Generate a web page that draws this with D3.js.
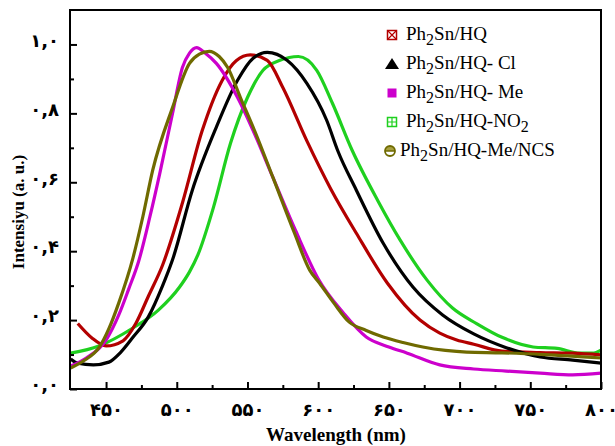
<!DOCTYPE html>
<html>
<head>
<meta charset="utf-8">
<script src="https://cdn.jsdelivr.net/npm/d3@7/dist/d3.min.js"></script>
<style>
body { margin: 0; background: #fff; }
text { font-family: "Liberation Serif", "DejaVu Serif", serif; }
.tick text { font-family: "DejaVu Sans", sans-serif; font-weight: bold; letter-spacing: 1.5px; }
</style>
</head>
<body>
<script>
// [wavelength nm, intensity]
var hq = [[430,0.19],[440,0.148],[450,0.125],[462,0.14],[471,0.19],[480,0.27],[490,0.36],[504,0.54],[518,0.75],[532,0.895],[542,0.953],[552,0.97],[564,0.954],[575,0.875],[592,0.72],[609,0.58],[627,0.452],[649,0.307],[672,0.2],[686,0.162],[698,0.142],[710,0.13],[730,0.11],[757,0.106],[780,0.104],[800,0.099]];
var hqCl = [[425,0.087],[430,0.075],[441,0.07],[452,0.078],[460,0.105],[469,0.15],[480,0.21],[490,0.30],[497,0.375],[511,0.577],[528,0.76],[543,0.896],[554,0.96],[564,0.977],[578,0.954],[592,0.887],[606,0.78],[614,0.69],[627,0.577],[646,0.423],[667,0.296],[688,0.215],[710,0.16],[733,0.12],[757,0.093],[780,0.084],[800,0.075]];
var hqMe = [[425,0.067],[436,0.09],[450,0.142],[459,0.215],[466,0.29],[473,0.37],[481,0.5],[488,0.626],[497,0.8],[504,0.933],[509,0.975],[514,0.991],[520,0.975],[528,0.945],[543,0.846],[554,0.75],[568,0.614],[584,0.46],[600,0.32],[618,0.22],[634,0.151],[650,0.122],[663,0.104],[686,0.07],[710,0.058],[733,0.052],[757,0.046],[780,0.041],[800,0.046]];
var hqNO2 = [[425,0.104],[445,0.125],[469,0.177],[487,0.229],[502,0.296],[509,0.34],[515,0.39],[526,0.528],[538,0.713],[550,0.846],[561,0.925],[573,0.954],[586,0.965],[599,0.925],[610,0.83],[624,0.693],[642,0.548],[658,0.432],[677,0.316],[695,0.235],[712,0.19],[730,0.15],[752,0.122],[769,0.118],[785,0.104],[794,0.104],[800,0.113]];
var hqMeNCS = [[425,0.061],[435,0.084],[445,0.12],[452,0.175],[459,0.25],[469,0.38],[476,0.5],[483,0.635],[497,0.817],[509,0.945],[516,0.972],[523,0.98],[530,0.965],[536,0.933],[545,0.846],[557,0.73],[568,0.614],[583,0.455],[594,0.345],[601,0.307],[611,0.25],[622,0.194],[634,0.17],[646,0.151],[660,0.135],[674,0.122],[690,0.112],[705,0.107],[730,0.105],[760,0.1],[800,0.09]];

var xTicks = [450,500,550,600,650,700,750,800];
var xTickLabels = ["۴۵۰","۵۰۰","۵۵۰","۶۰۰","۶۵۰","۷۰۰","۷۵۰","۸۰۰"];
var yTicks = [0,0.2,0.4,0.6,0.8,1.0];
var yTickLabels = ["۰,۰","۰,۲","۰,۴","۰,۶","۰,۸","۱,۰"];

var names = ["HQ","HQ- Cl","HQ- Me","HQ-NO","HQ-Me/NCS"];
var colors = ["#b30000","#000000","#cc00cc","#1fd01f","#6f6a00"];

var W = 615, H = 446;
var m = {left: 70, right: 14, top: 10, bottom: 57};

var svg = d3.select("body").append("svg").attr("width", W).attr("height", H);

var x = d3.scaleLinear().domain([424.5, 800]).range([m.left, W - m.right]);
var y = d3.scaleLinear().domain([0, 1.1]).range([H - m.bottom, m.top]);

svg.append("clipPath").attr("id", "clip").append("rect")
	.attr("x", m.left).attr("y", m.top)
	.attr("width", W - m.left - m.right).attr("height", H - m.top - m.bottom);

var line = d3.line()
	.x(function(d) { return x(d[0]); })
	.y(function(d) { return y(d[1]); })
	.curve(d3.curveMonotoneX);

var series = [hq, hqCl, hqMe, hqNO2, hqMeNCS];
var g = svg.append("g").attr("clip-path", "url(#clip)");
// draw order roughly as in the figure
[3, 0, 1, 2, 4].forEach(function(i) {
	g.append("path").datum(series[i])
		.attr("fill", "none")
		.attr("stroke", colors[i])
		.attr("stroke-width", 3.2)
		.attr("stroke-linejoin", "round")
		.attr("d", line);
});

// axes, ticks pointing inward
var minorX = d3.range(475, 800, 50);
var minorY = d3.range(0.1, 1.1, 0.2);

var xAxis = svg.append("g").attr("transform", "translate(0," + (H - m.bottom) + ")")
	.call(d3.axisBottom(x).tickValues(xTicks).tickSize(-7).tickPadding(13)
		.tickFormat(function(d, i) { return xTickLabels[i]; }));
svg.append("g").attr("transform", "translate(0," + (H - m.bottom) + ")")
	.call(d3.axisBottom(x).tickValues(minorX).tickSize(-4).tickFormat(""));

var yAxis = svg.append("g").attr("transform", "translate(" + m.left + ",0)")
	.call(d3.axisLeft(y).tickValues(yTicks).tickSize(-7).tickPadding(11)
		.tickFormat(function(d, i) { return yTickLabels[i]; }));
svg.append("g").attr("transform", "translate(" + m.left + ",0)")
	.call(d3.axisLeft(y).tickValues(minorY).tickSize(-4).tickFormat(""));

svg.selectAll(".domain").remove();
svg.selectAll(".tick line").attr("stroke", "#000").attr("stroke-width", 2);
svg.selectAll(".tick text").attr("font-size", 18).attr("fill", "#000");
xAxis.selectAll(".tick text").attr("dy", "0.75em");
yAxis.selectAll(".tick text").attr("dy", "0.1em");

svg.append("rect")
	.attr("x", m.left).attr("y", m.top)
	.attr("width", W - m.left - m.right).attr("height", H - m.top - m.bottom)
	.attr("fill", "none").attr("stroke", "#000").attr("stroke-width", 2);

svg.append("text")
	.attr("x", 336).attr("y", H - 5)
	.attr("text-anchor", "middle").attr("font-weight", "bold").attr("font-size", 19)
	.text("Wavelength (nm)");

svg.append("text")
	.attr("transform", "translate(24,212) rotate(-90)")
	.attr("text-anchor", "middle").attr("font-weight", "bold").attr("font-size", 17)
	.text("Intensiyu (a. u.)");

// legend
var leg = svg.append("g");
var lx = 392, ly0 = 35, lstep = 29;
names.forEach(function(n, i) {
	var cy = ly0 + i * lstep;
	var s = leg.append("g").attr("transform", "translate(" + lx + "," + cy + ")");
	if (i == 0) {
		s.append("rect").attr("x", -4.5).attr("y", -4.5).attr("width", 9).attr("height", 9)
			.attr("fill", "none").attr("stroke", colors[0]).attr("stroke-width", 1.5);
		s.append("path").attr("d", "M-4.5,-4.5L4.5,4.5M4.5,-4.5L-4.5,4.5")
			.attr("stroke", colors[0]).attr("stroke-width", 1.2);
	} else if (i == 1) {
		s.append("path").attr("d", "M-7,5L0,-6L7,5Z").attr("fill", "#000");
	} else if (i == 2) {
		s.append("rect").attr("x", -4.5).attr("y", -4.5).attr("width", 9).attr("height", 9)
			.attr("fill", colors[2]);
	} else if (i == 3) {
		s.append("rect").attr("x", -4.5).attr("y", -4.5).attr("width", 9).attr("height", 9)
			.attr("fill", "none").attr("stroke", colors[3]).attr("stroke-width", 1.5);
		s.append("path").attr("d", "M0,-4.5V4.5M-4.5,0H4.5")
			.attr("stroke", colors[3]).attr("stroke-width", 1.2);
	} else {
		s.attr("transform", "translate(" + (lx - 2) + "," + cy + ")");
		s.append("path").attr("d", "M-5,0A5,5 0 0 1 5,0Z").attr("fill", "#a8a040");
		s.append("circle").attr("r", 5).attr("fill", "none").attr("stroke", colors[4]).attr("stroke-width", 1.8);
		s.append("path").attr("d", "M-5,0H5").attr("stroke", colors[4]).attr("stroke-width", 1.5);
	}
	var t = leg.append("text").attr("x", i == 4 ? 400 : 406).attr("y", cy + 5)
		.attr("font-size", 19).attr("fill", "#000");
	t.append("tspan").text("Ph");
	t.append("tspan").attr("font-size", 16).attr("dy", 5).text("2");
	t.append("tspan").attr("dy", -5).text("Sn/" + n);
	if (i == 3) t.append("tspan").attr("font-size", 16).attr("dy", 5).text("2");
});
</script>
</body>
</html>
